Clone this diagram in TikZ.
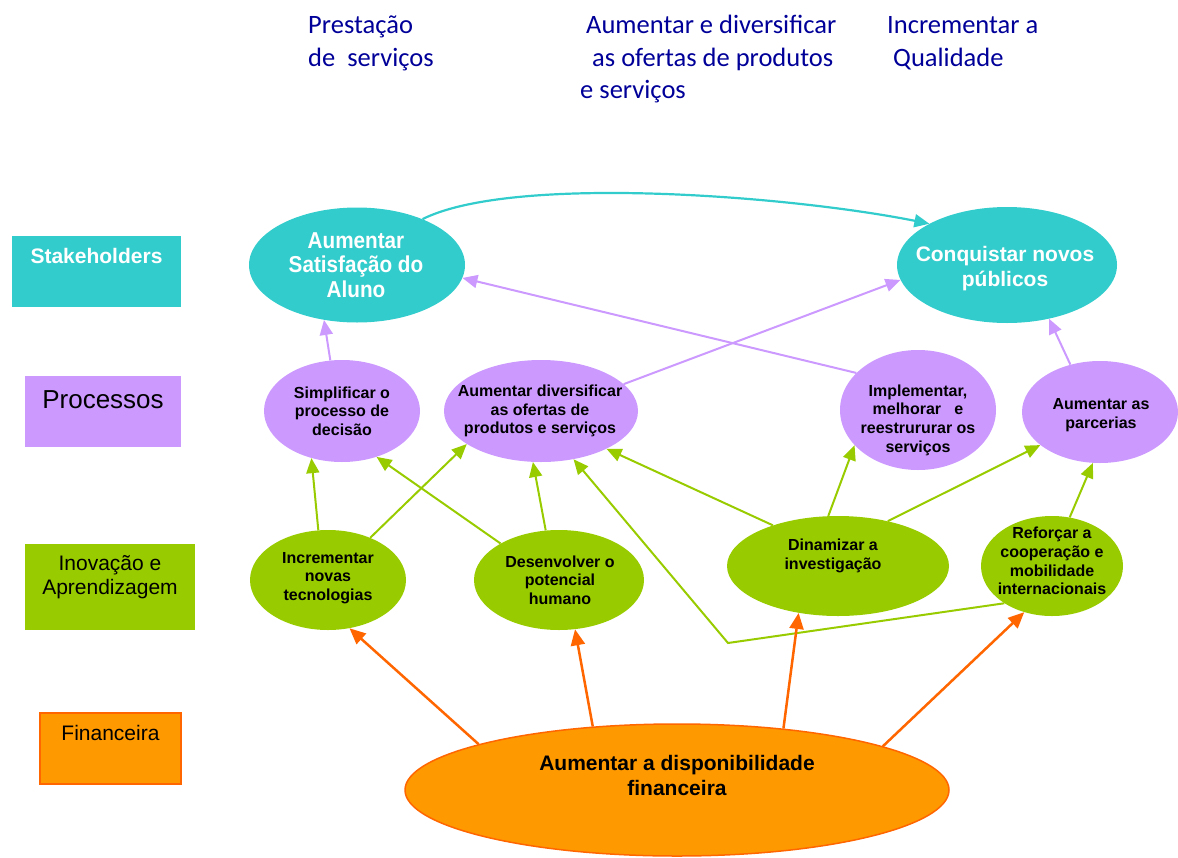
\documentclass[tikz,border=0pt]{standalone}
\usepackage{fontspec}
\setmainfont{Liberation Sans}
\newfontfamily\calfont{Carlito}
\newfontfamily\narrowfont[FakeStretch=0.9]{Liberation Sans}
\usetikzlibrary{shapes.geometric,arrows.meta}
\definecolor{tealc}{HTML}{33CCCC}
\definecolor{lilac}{HTML}{CC99FF}
\definecolor{limec}{HTML}{99CC00}
\definecolor{orangef}{HTML}{FF9900}
\definecolor{oranged}{HTML}{FF6600}
\definecolor{navyc}{HTML}{000099}
\begin{document}
\begin{tikzpicture}[x=1pt,y=-1pt,
  ell/.style={ellipse,inner sep=0pt,draw=none},
  lbox/.style={rectangle,inner sep=0pt,draw=none},
  toptxt/.style={anchor=base west,inner sep=0pt,text=navyc,font=\calfont\fontsize{26.5}{32}\selectfont},
  bigw/.style={align=center,inner sep=0pt,text=white,font=\bfseries\fontsize{21}{25}\selectfont},
  smallb/.style={align=center,inner sep=0pt,text=black,font=\bfseries\fontsize{16}{18.7}\selectfont},
  tip/.style={-{Triangle[length=15pt,width=13pt]}},
  tline/.style={tip,draw=tealc,line width=2.2pt},
  pline/.style={tip,draw=lilac,line width=2pt},
  gline/.style={tip,draw=limec,line width=2pt},
  oline/.style={-{Triangle[length=16pt,width=14pt]},draw=oranged,line width=2.5pt}
]
\useasboundingbox (0,0) rectangle (1178,857);

% top texts
\node[toptxt] (ta1) at (308,33) {Prestação};
\node[toptxt] (ta2) at (308,66) {de\ \ serviços};
\node[toptxt] (tb1) at (586,33) {Aumentar e diversificar};
\node[toptxt] (tb2) at (592,66) {as ofertas de produtos};
\node[toptxt] (tb3) at (580,98) {e serviços};
\node[toptxt] (tc1) at (887,33) {Incrementar a};
\node[toptxt] (tc2) at (893,66) {Qualidade};

% left label boxes
\node[lbox,fill=tealc,minimum width=169pt,minimum height=71pt] (bstk) at (96.5,271.5) {};
\node[inner sep=0pt,text=white,font=\bfseries\fontsize{21}{24}\selectfont] (tstk) at (96.5,256) {Stakeholders};
\node[lbox,fill=lilac,minimum width=156pt,minimum height=71pt] (bpro) at (103,411.5) {};
\node[inner sep=0pt,font=\fontsize{26}{30}\selectfont] (tpro) at (103,400) {Processos};
\node[lbox,fill=limec,minimum width=170pt,minimum height=86pt] (binv) at (110,587) {};
\node[inner sep=0pt,align=center,font=\fontsize{21}{24}\selectfont] (tinv) at (110,577) {Inovação e\\Aprendizagem};
\node[lbox,fill=orangef,draw=oranged,line width=1.5pt,minimum width=141pt,minimum height=71pt] (bfin) at (110.5,748.5) {};
\node[inner sep=0pt,font=\fontsize{21}{24}\selectfont] (tfin) at (110.5,733) {Financeira};

% stakeholder ellipses
\node[ell,fill=tealc,minimum width=216pt,minimum height=115pt] (sat) at (357,265) {};
\node[bigw,font=\narrowfont\bfseries\fontsize{23}{24.5}\selectfont] (satT) at (356,265) {Aumentar\\Satisfação do\\Aluno};
\node[ell,fill=tealc,minimum width=220pt,minimum height=116pt] (conq) at (1007,265) {};
\node[bigw] (conqT) at (1005,269) {Conquistar novos\\públicos};

% process ellipses
\node[ell,fill=lilac,minimum width=156pt,minimum height=102pt] (simp) at (342,411) {};
\node[smallb] (simpT) at (342,411) {Simplificar o\\processo de\\decisão};
\node[ell,fill=lilac,minimum width=194pt,minimum height=102pt] (adiv) at (541,411) {};
\node[smallb] (adivT) at (540,411) {Aumentar diversificar\\as ofertas de\\produtos e serviços};
\node[ell,fill=lilac,minimum width=156pt,minimum height=120pt] (impl) at (918,410) {};
\node[smallb] (implT) at (918,420) {Implementar,\\melhorar\ \ \ e\\reestrururar os\\serviços};
\node[ell,fill=lilac,minimum width=156pt,minimum height=102pt] (parc) at (1100,412) {};
\node[smallb] (parcT) at (1101,415) {Aumentar as\\parcerias};

% innovation ellipses
\node[ell,fill=limec,minimum width=156pt,minimum height=100pt] (inc) at (328,580) {};
\node[smallb] (incT) at (328,578) {Incrementar\\novas\\tecnologias};
\node[ell,fill=limec,minimum width=170pt,minimum height=100pt] (des) at (559,580) {};
\node[smallb] (desT) at (560,580) {Desenvolver o\\potencial\\humano};
\node[ell,fill=limec,minimum width=222pt,minimum height=100pt] (din) at (838,566) {};
\node[smallb] (dinT) at (833,556) {Dinamizar a\\investigação};
\node[ell,fill=limec,minimum width=142pt,minimum height=100pt] (ref) at (1052,566) {};
\node[smallb] (refT) at (1052,561) {Reforçar a\\cooperação e\\mobilidade\\internacionais};

% financial ellipse
\node[ell,fill=orangef,draw=oranged,line width=1.5pt,minimum width=544pt,minimum height=132pt] (fin) at (677,790) {};
\node[smallb,font=\bfseries\fontsize{21}{25}\selectfont] (finT) at (677,775) {Aumentar a disponibilidade\\financeira};

% teal connector
\draw[tline] (sat.35) .. controls +(90,-45) and +(-140,-28) .. (conq.152.3);

% purple connectors
\draw[pline] (simp.103) -- (sat.239);
\draw[pline] (adiv.18.4) -- (conq.188.3);
\draw[pline] (impl.149.6) -- (sat.-7.5);
\draw[pline] (parc.122.5) -- (conq.-52);

% green connectors
\draw[gline] (inc.101) -- (simp.237.6);
\draw[gline] (inc.45.7) -- (adiv.204.5);
\draw[gline] (des.148) -- (simp.-53.3);
\draw[gline] (des.105.6) -- (adiv.261.3);
\draw[gline] (din.148.6) -- (adiv.-30.1);
\draw[gline] (din.101.3) -- (impl.209.7);
\draw[gline] (din.42.6) -- (parc.209);
\draw[gline] (ref.70.6) -- (parc.262.6);
\coordinate (bend) at (728,643);
\draw[gline] (ref.218.2) -- (bend) -- (adiv.-56.1);

% orange connectors
\draw[oline] (fin.167.3) -- (inc.-66.3);
\draw[oline] (fin.143.4) -- (des.-72.9);
\draw[oline] (fin.30.3) -- (din.230.6);
\draw[oline] (fin.12.5) -- (ref.239);
\end{tikzpicture}
\end{document}
